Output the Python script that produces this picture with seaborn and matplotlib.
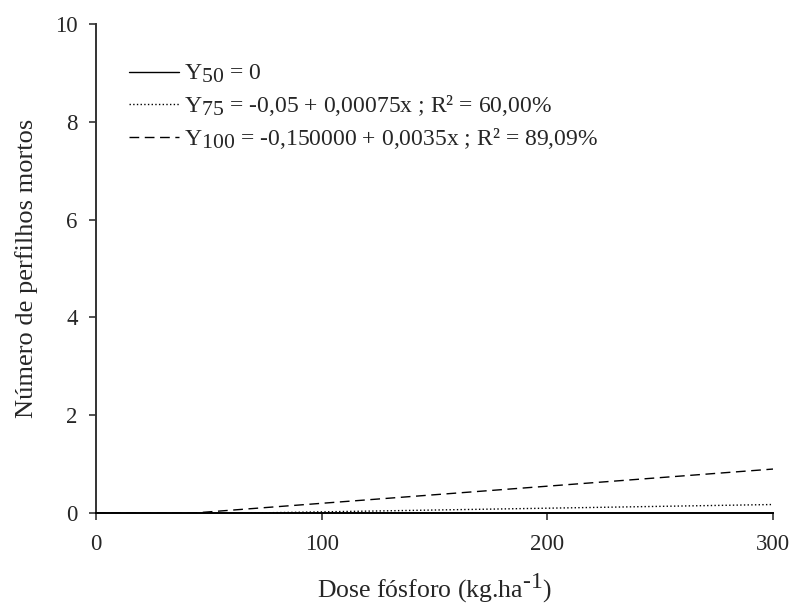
import seaborn as sns
import pandas as pd
import matplotlib.pyplot as plt
import matplotlib._mathtext as mt

# subscritos quase do tamanho do texto, como no original
try:
    mt.SHRINK_FACTOR = 0.92
except Exception:
    pass

dose_50 = [0, 300]
y_50 = [0, 0]
dose_75 = [67, 300]
y_75 = [0, 0.175]
dose_100 = [0, 43, 300]
y_100 = [0, 0, 0.9]

labels = [
    "Y$_{50}$ = 0",
    "Y$_{75}$ = -0,05 + 0,00075x ; R² = 60,00%",
    "Y$_{100}$ = -0,150000 + 0,0035x ; R² = 89,09%",
]

df = pd.concat([
    pd.DataFrame({"dose": dose_50, "y": y_50, "serie": labels[0]}),
    pd.DataFrame({"dose": dose_75, "y": y_75, "serie": labels[1]}),
    pd.DataFrame({"dose": dose_100, "y": y_100, "serie": labels[2]}),
])

sns.set_style("ticks")
plt.rcParams["font.family"] = ["Liberation Serif", "DejaVu Serif"]
plt.rcParams["mathtext.fontset"] = "custom"
plt.rcParams["mathtext.rm"] = "Liberation Serif"
plt.rcParams["mathtext.it"] = "Liberation Serif:italic"
plt.rcParams["mathtext.default"] = "rm"

fig = plt.figure(figsize=(7.92, 6.13), dpi=100)
ax = fig.add_axes([0.121, 0.163, 0.855, 0.798])

styles = {labels[0]: "-", labels[1]: ":", labels[2]: (0, (7, 4))}
for lab in labels:
    sub = df[df["serie"] == lab]
    sns.lineplot(data=sub, x="dose", y="y", ax=ax, color="black",
                 linewidth=1.0, linestyle=styles[lab], label=lab)

ax.set_xlim(0, 300)
ax.set_ylim(0, 10)
ax.set_xticks([0, 100, 200, 300])
ax.set_yticks([0, 2, 4, 6, 8, 10])
ax.tick_params(axis="both", labelsize=16.5, length=5, width=1.2, color="#333333")
ax.tick_params(axis="x", pad=10)
ax.tick_params(axis="y", pad=8)
for s in ["top", "right"]:
    ax.spines[s].set_visible(False)
for s in ["left", "bottom"]:
    ax.spines[s].set_color("#333333")
    ax.spines[s].set_linewidth(1.4)
ax.spines["bottom"].set_color("black")

ax.set_xlabel("Dose fósforo (kg.ha$^{\\text{-}1}$)", fontsize=18.5, labelpad=12)
ax.set_ylabel("Número de perfilhos mortos", fontsize=19, labelpad=12)

ax.legend(loc="upper left", bbox_to_anchor=(0.035, 0.939), frameon=False,
          borderaxespad=0, fontsize=17, handlelength=2.12,
          handletextpad=0.2, labelspacing=0.33)

fig.savefig("out.png", dpi=100)
